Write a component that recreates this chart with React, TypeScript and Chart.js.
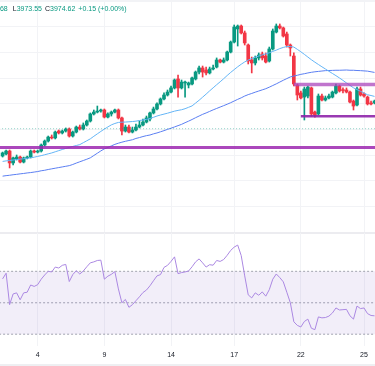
import { useEffect, useRef } from 'react';
import { Chart, registerables } from 'chart.js';

Chart.register(...registerables);

// ---------- data ----------
const opens = [
  3953.3, 3954.9, 3957.2, 3947.9, 3951.0, 3952.5, 3948.6, 3951.8, 3952.5, 3957.2,
  3956.4, 3957.2, 3961.9, 3965.0, 3968.1, 3967.4, 3972.8, 3971.3, 3972.8, 3974.4,
  3968.9, 3972.0, 3975.9, 3974.4, 3977.5, 3980.6, 3986.1, 3987.6, 3988.4, 3989.2,
  3983.7, 3986.1, 3987.6, 3989.2, 3983.0, 3972.8, 3975.9, 3972.0, 3973.6, 3975.9,
  3977.5, 3979.8, 3982.2, 3986.9, 3990.0, 3993.9, 3997.8, 4000.9, 4003.2, 4006.4,
  4013.4, 4006.4, 4010.3, 4008.7, 4009.5, 4013.4, 4018.8, 4022.0, 4020.4, 4018.1,
  4021.2, 4022.7, 4028.2, 4026.6, 4028.2, 4034.4, 4042.2, 4052.4, 4054.7, 4049.3,
  4039.9, 4028.2, 4025.9, 4029.8, 4032.9, 4031.3, 4027.4, 4036.8, 4050.0, 4054.7,
  4053.2, 4048.5, 4039.9, 4031.3, 4008.7, 4002.5, 3999.3, 4000.1, 4006.4, 3987.6,
  3986.1, 4000.1, 3997.0, 3998.6, 3999.3, 4002.5, 4007.9, 4004.8, 4004.8, 4003.2,
  3996.2, 3993.1, 4005.6, 4001.7, 3999.3, 3994.7, 3994.7,
];
const highs = [
  3956.4, 3958.0, 3958.0, 3952.5, 3954.1, 3953.3, 3952.5, 3953.3, 3958.0, 3958.0,
  3958.0, 3962.7, 3965.8, 3968.9, 3969.7, 3972.8, 3973.6, 3973.6, 3975.2, 3975.2,
  3972.8, 3976.7, 3977.5, 3979.1, 3981.4, 3986.9, 3989.2, 3992.3, 3990.0, 3990.0,
  3986.9, 3988.4, 3990.0, 3990.0, 3983.7, 3977.5, 3977.5, 3975.9, 3978.3, 3980.6,
  3982.2, 3984.5, 3987.6, 3991.5, 3994.7, 3998.6, 4002.5, 4004.8, 4007.9, 4013.4,
  4016.5, 4012.6, 4011.8, 4011.0, 4014.9, 4019.6, 4023.5, 4023.5, 4022.7, 4022.7,
  4024.3, 4029.8, 4029.0, 4029.8, 4035.2, 4043.0, 4055.5, 4055.5, 4055.5, 4050.8,
  4040.7, 4030.5, 4031.3, 4033.7, 4034.4, 4033.7, 4038.3, 4052.4, 4056.3, 4056.3,
  4053.9, 4050.0, 4040.7, 4033.7, 4009.5, 4004.0, 4007.1, 4007.9, 4007.1, 3988.4,
  4001.7, 4001.7, 4000.1, 4001.7, 4004.0, 4009.5, 4008.7, 4006.4, 4006.4, 4004.0,
  3997.0, 4007.1, 4007.1, 4002.5, 4000.1, 3996.2, 3997.0,
];
const lows = [
  3952.5, 3954.1, 3944.0, 3946.3, 3950.2, 3947.9, 3947.9, 3951.0, 3951.8, 3955.7,
  3955.7, 3956.4, 3961.1, 3964.2, 3966.6, 3966.6, 3970.5, 3970.5, 3972.0, 3968.1,
  3968.1, 3971.3, 3973.6, 3973.6, 3976.7, 3979.8, 3985.3, 3986.9, 3987.6, 3983.0,
  3983.0, 3984.5, 3986.9, 3982.2, 3969.7, 3972.0, 3971.3, 3971.3, 3972.8, 3975.2,
  3976.7, 3979.1, 3980.6, 3986.1, 3989.2, 3993.1, 3997.0, 4000.1, 4002.5, 4005.6,
  3999.3, 4005.6, 3999.3, 4006.4, 4008.7, 4012.6, 4017.3, 4014.9, 4016.5, 4017.3,
  4020.4, 4022.0, 4025.9, 4025.9, 4027.4, 4033.7, 4041.5, 4039.1, 4048.5, 4039.9,
  4025.1, 4018.1, 4024.3, 4028.2, 4028.2, 4025.9, 4026.6, 4036.0, 4049.3, 4052.4,
  4046.1, 4038.3, 4031.3, 4007.9, 3997.0, 3997.8, 3981.4, 3998.6, 3984.5, 3983.7,
  3985.3, 3996.2, 3996.2, 3997.8, 3998.6, 4001.7, 4003.2, 4002.5, 4002.5, 3994.7,
  3989.2, 3992.3, 4000.1, 3999.3, 3993.1, 3993.1, 3993.9,
];
const closes = [
  3955.7, 3957.2, 3947.9, 3951.8, 3952.5, 3948.6, 3951.8, 3952.5, 3957.2, 3956.4,
  3957.2, 3961.9, 3965.0, 3968.1, 3967.4, 3972.0, 3971.3, 3972.8, 3974.4, 3968.9,
  3972.0, 3975.9, 3974.4, 3977.5, 3980.6, 3986.1, 3987.6, 3988.4, 3989.2, 3983.7,
  3986.1, 3987.6, 3989.2, 3983.0, 3972.8, 3975.9, 3972.0, 3973.6, 3975.9, 3977.5,
  3979.8, 3983.0, 3986.9, 3990.0, 3993.9, 3997.8, 4000.9, 4003.2, 4006.4, 4012.6,
  4006.4, 4011.0, 4011.0, 4010.3, 4014.2, 4018.8, 4022.0, 4018.8, 4018.1, 4021.2,
  4022.0, 4028.2, 4026.6, 4028.2, 4034.4, 4042.2, 4053.9, 4054.7, 4049.3, 4041.5,
  4027.4, 4025.9, 4029.8, 4032.1, 4029.8, 4026.6, 4036.8, 4050.8, 4054.7, 4053.2,
  4046.9, 4039.9, 4037.6, 4009.5, 4000.9, 3998.6, 4005.6, 4007.1, 3986.1, 3985.3,
  4000.1, 3997.0, 3998.6, 4000.1, 4003.2, 4007.9, 4004.0, 4004.4, 4003.2, 3995.4,
  3992.3, 4005.6, 4000.9, 4000.1, 3993.9, 3993.9, 3996.2,
];
const maFast = [
  3949.1, 3949.5, 3949.8, 3950.2, 3950.5, 3950.9, 3951.2, 3951.6, 3951.9, 3952.4,
  3953.0, 3953.6, 3954.3, 3955.0, 3955.7, 3956.6, 3957.5, 3958.4, 3959.2, 3960.0,
  3960.8, 3961.5, 3962.2, 3963.7, 3965.2, 3966.7, 3968.7, 3970.6, 3972.5, 3974.3,
  3976.0, 3977.6, 3978.7, 3979.5, 3979.7, 3979.8, 3980.0, 3980.2, 3980.5, 3981.0,
  3981.4, 3981.9, 3982.6, 3983.5, 3984.5, 3985.3, 3986.0, 3986.7, 3987.5, 3988.3,
  3988.9, 3989.4, 3990.2, 3991.3, 3992.4, 3994.6, 3996.8, 3999.2, 4001.6, 4004.1,
  4006.5, 4008.9, 4011.2, 4013.6, 4016.1, 4018.5, 4020.7, 4022.9, 4024.9, 4026.7,
  4028.2, 4029.3, 4030.4, 4031.3, 4032.2, 4033.0, 4033.8, 4034.9, 4035.9, 4037.1,
  4038.0, 4038.7, 4038.7, 4038.3, 4036.5, 4034.6, 4032.6, 4030.5, 4028.4, 4026.5,
  4024.7, 4022.9, 4021.2, 4019.4, 4017.7, 4016.0, 4014.2, 4012.3, 4010.3, 4008.4,
  4006.5, 4005.1, 4003.8, 4002.4, 4001.1, 4000.5, 3999.8,
];
const maSlow = [
  3937.6, 3938.0, 3938.3, 3938.7, 3939.0, 3939.4, 3939.7, 3940.1, 3940.4, 3940.8,
  3941.2, 3941.8, 3942.2, 3942.8, 3943.3, 3943.8, 3944.3, 3944.8, 3945.3, 3945.8,
  3946.7, 3947.8, 3948.8, 3949.8, 3950.8, 3951.9, 3953.7, 3955.5, 3957.3, 3958.9,
  3960.0, 3961.2, 3962.4, 3963.3, 3964.1, 3964.8, 3965.4, 3966.0, 3967.0, 3967.7,
  3968.5, 3969.2, 3969.7, 3970.6, 3971.3, 3972.2, 3973.1, 3974.1, 3975.0, 3976.0,
  3977.0, 3978.0, 3979.3, 3980.5, 3981.8, 3983.2, 3984.5, 3985.8, 3986.9, 3988.1,
  3989.3, 3990.4, 3991.5, 3992.6, 3993.7, 3994.9, 3996.2, 3997.5, 3998.7, 4000.1,
  4001.2, 4002.1, 4003.1, 4004.0, 4004.9, 4005.8, 4007.0, 4008.3, 4009.6, 4011.0,
  4012.4, 4013.7, 4015.0, 4015.7, 4016.3, 4017.0, 4017.5, 4018.1, 4018.6, 4019.0,
  4019.3, 4019.6, 4019.9, 4020.0, 4020.1, 4020.2, 4020.2, 4020.3, 4020.4, 4020.2,
  4020.2, 4020.0, 4019.9, 4019.7, 4019.5, 4019.0, 4018.5,
];
const rsi = [
  65.2, 68.8, 48.8, 55.6, 56.3, 51.9, 56.3, 56.7, 61.3, 60.4,
  61.5, 65.0, 67.7, 70.0, 69.6, 72.7, 72.1, 73.8, 74.4, 63.5,
  67.9, 70.4, 68.3, 70.2, 72.9, 75.4, 76.0, 76.9, 77.1, 65.0,
  66.9, 68.1, 69.8, 58.8, 50.0, 52.1, 47.1, 48.8, 51.3, 53.8,
  56.5, 58.1, 60.8, 64.0, 67.1, 67.9, 72.5, 73.8, 76.3, 79.2,
  68.5, 69.2, 69.6, 70.2, 72.9, 76.0, 77.9, 75.4, 72.7, 74.2,
  73.9, 76.9, 76.3, 77.5, 80.2, 83.3, 85.4, 86.7, 80.0, 67.1,
  55.0, 53.1, 56.3, 54.8, 56.9, 54.2, 58.3, 65.0, 68.3, 66.0,
  63.3, 56.7, 50.0, 37.9, 35.6, 34.6, 38.1, 39.6, 33.8, 32.9,
  41.0, 40.4, 40.6, 41.5, 43.5, 46.7, 45.4, 45.6, 45.8, 41.7,
  39.6, 47.9, 46.3, 46.7, 43.1, 41.9, 41.7,
];
const dayTickIndex = [10, 29, 48, 66, 85, 103];
const dayTickLabels = ['4', '9', '14', '17', '22', '25'];
const levelPrices = [3960.0, 4009.0, 3984.3];
const levelStartIndex = [-1, 83, 85];
const lastPrice = 3974.62;
const rsiLevels = [70, 50, 30];

// ---------- layout / style ----------
const X_MIN = -0.74;
const X_MAX = 106.13;
const PRICE_MAX = 4075;
const PRICE_MIN = 3894.04;
const RSI_MAX = 94.375;
const RSI_MIN = 22.5;
const UP = '#089981';
const DOWN = '#F23645';
const GRID = '#f2f3f6';
const FONT = '"Liberation Sans", Arial, sans-serif';

function xScale(showLabels: boolean) {
  return {
    type: 'linear' as const,
    min: X_MIN,
    max: X_MAX,
    bounds: 'data' as const,
    offset: false,
    border: { display: false },
    grid: { color: GRID, drawTicks: false, offset: false },
    afterBuildTicks: (s: any) => {
      s.ticks = dayTickIndex.map((v) => ({ value: v }));
    },
    ticks: {
      display: showLabels,
      autoSkip: false,
      maxRotation: 0,
      padding: 4.5,
      color: '#131722',
      font: { size: 7, family: FONT },
      callback: (value: any) => {
        const k = dayTickIndex.indexOf(Number(value));
        return k >= 0 ? dayTickLabels[k] : '';
      },
    },
    afterFit: (s: any) => {
      s.height = showLabels ? 18 : 0;
    },
  };
}

export default function App() {
  const mainRef = useRef<HTMLCanvasElement>(null);
  const rsiRef = useRef<HTMLCanvasElement>(null);

  useEffect(() => {
    const n = closes.length;
    const idx = closes.map((_, i) => i);
    const colors = idx.map((i) => (closes[i] >= opens[i] ? UP : DOWN));
    const levelColors = ['rgba(156,39,176,0.85)', 'rgba(171,71,188,0.75)', 'rgba(142,36,170,0.9)'];
    const levelWidths = [3, 3.5, 2.5];

    const levelSets = levelPrices.map((p, k) => ({
      type: 'line' as const,
      data: [
        { x: levelStartIndex[k], y: p },
        { x: n, y: p },
      ],
      borderColor: levelColors[k],
      borderWidth: levelWidths[k],
      pointRadius: 0,
      order: 1,
    }));

    const main = new Chart(mainRef.current!, {
      type: 'bar',
      data: {
        datasets: [
          {
            type: 'line',
            data: [
              { x: -1, y: lastPrice },
              { x: n, y: lastPrice },
            ],
            borderColor: 'rgba(8,153,129,0.45)',
            borderWidth: 1,
            borderDash: [1, 2],
            pointRadius: 0,
            order: 0,
          } as any,
          ...levelSets,
          {
            type: 'line',
            data: idx.map((i) => ({ x: i, y: maFast[i] })),
            borderColor: '#64b5f6',
            borderWidth: 1,
            pointRadius: 0,
            order: 2,
          } as any,
          {
            type: 'line',
            data: idx.map((i) => ({ x: i, y: maSlow[i] })),
            borderColor: '#5b7ff2',
            borderWidth: 1,
            pointRadius: 0,
            order: 3,
          } as any,
          {
            type: 'bar',
            data: idx.map((i) => ({ x: i, y: [opens[i], closes[i]] })),
            backgroundColor: colors,
            barThickness: 3,
            minBarLength: 0.8,
            grouped: false,
            borderWidth: 0,
            order: 4,
          } as any,
          {
            type: 'bar',
            data: idx.map((i) => ({ x: i, y: [lows[i], highs[i]] })),
            backgroundColor: colors,
            barThickness: 1,
            grouped: false,
            borderWidth: 0,
            order: 5,
          } as any,
        ],
      },
      options: {
        responsive: false,
        animation: false,
        events: [],
        layout: { padding: 0 },
        plugins: { legend: { display: false }, tooltip: { enabled: false } },
        scales: {
          x: xScale(false) as any,
          y: {
            type: 'linear',
            min: PRICE_MIN,
            max: PRICE_MAX,
            bounds: 'data',
            border: { display: false },
            grid: { color: GRID, drawTicks: false },
            ticks: { display: false, stepSize: 20, includeBounds: false },
            afterFit: (s: any) => {
              s.width = 0;
            },
          } as any,
        },
      },
    });

    const levelLine = (v: number, extra: any) => ({
      data: [
        { x: -1, y: v },
        { x: n, y: v },
      ],
      borderColor: '#a3a6af',
      borderWidth: 1,
      borderDash: [2, 2],
      pointRadius: 0,
      ...extra,
    });

    const rsiChart = new Chart(rsiRef.current!, {
      type: 'line',
      data: {
        datasets: [
          {
            data: idx.map((i) => ({ x: i, y: rsi[i] })),
            borderColor: '#ab88e2',
            borderWidth: 1,
            pointRadius: 0,
            order: 0,
          },
          levelLine(rsiLevels[0], { fill: '+2', backgroundColor: 'rgba(126,87,194,0.1)', order: 1 }),
          levelLine(rsiLevels[1], { fill: false, order: 1 }),
          levelLine(rsiLevels[2], { fill: false, order: 1 }),
        ] as any,
      },
      options: {
        responsive: false,
        animation: false,
        events: [],
        layout: { padding: 0 },
        plugins: { legend: { display: false }, tooltip: { enabled: false } },
        scales: {
          x: xScale(true) as any,
          y: {
            type: 'linear',
            min: RSI_MIN,
            max: RSI_MAX,
            bounds: 'data',
            border: { display: false },
            grid: {
              drawTicks: false,
              color: (ctx: any) => (ctx.tick && ctx.tick.value === 80 ? GRID : 'rgba(0,0,0,0)'),
            },
            ticks: { display: false, stepSize: 20, includeBounds: false },
            afterFit: (s: any) => {
              s.width = 0;
            },
          } as any,
        },
      },
    });

    return () => {
      main.destroy();
      rsiChart.destroy();
    };
  }, []);

  const val = { color: UP };
  const lab = { color: '#131722' };

  return (
    <div
      style={{
        position: 'fixed',
        left: 0,
        top: 0,
        width: 375,
        height: 366,
        overflow: 'hidden',
        background: '#ffffff',
        fontFamily: FONT,
      }}
    >
      <canvas ref={mainRef} width={375} height={232} style={{ position: 'absolute', left: 0, top: 0 }} />
      <div style={{ position: 'absolute', left: 0, top: 232, width: 375, height: 1.5, background: '#ececf0' }} />
      <canvas ref={rsiRef} width={375} height={131} style={{ position: 'absolute', left: 0, top: 233 }} />
      <div style={{ position: 'absolute', left: 0, top: 364, width: 375, height: 2, background: '#eeeff2' }} />
      <div
        style={{
          position: 'absolute',
          left: -2,
          top: 3,
          fontSize: 7,
          lineHeight: '12px',
          whiteSpace: 'nowrap',
        }}
      >
        <span style={val}>.68</span>
        <span style={{ ...lab, marginLeft: 5 }}>L</span>
        <span style={val}>3973.55</span>
        <span style={{ ...lab, marginLeft: 3 }}>C</span>
        <span style={val}>3974.62</span>
        <span style={{ ...val, marginLeft: 3 }}>+0.15 (+0.00%)</span>
      </div>
    </div>
  );
}
